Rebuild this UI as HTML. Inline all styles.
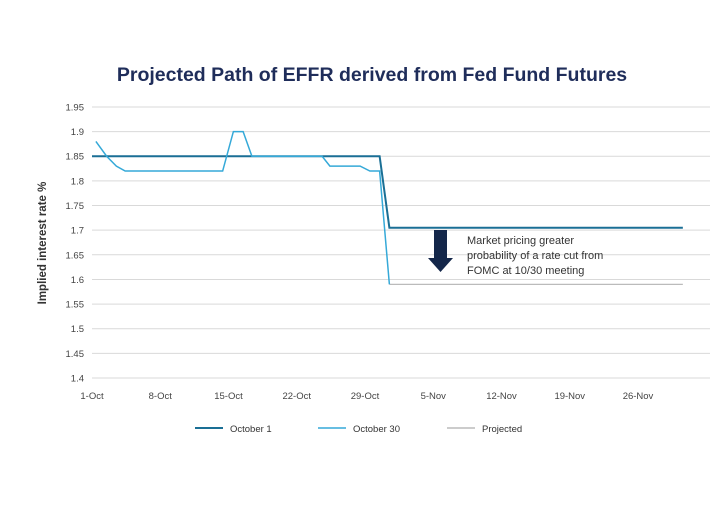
<!DOCTYPE html>
<html><head><meta charset="utf-8">
<style>
body{margin:0;background:#fff;font-family:"Liberation Sans",sans-serif;}
svg text{font-family:"Liberation Sans",sans-serif;}
</style></head>
<body>
<svg id="chart" width="720" height="500">
<text x="372" y="81" text-anchor="middle" font-size="19.5" font-weight="bold" fill="#1f2d5a">Projected Path of EFFR derived from Fed Fund Futures</text>
<text transform="translate(46,243) rotate(-90)" text-anchor="middle" font-size="11.5" font-weight="bold" fill="#333">Implied interest rate %</text>
<g id="grid"></g><g id="series"></g>
<g>
<rect x="434" y="230" width="13" height="28" fill="#14274a"/>
<polygon points="428,258 453,258 440.5,272" fill="#14274a"/>
<text font-size="11" fill="#333"><tspan x="467" y="244">Market pricing greater</tspan><tspan x="467" y="259">probability of a rate cut from</tspan><tspan x="467" y="274">FOMC at 10/30 meeting</tspan></text>
</g>
<g>
<line x1="195" y1="428" x2="223" y2="428" stroke="#1a6f95" stroke-width="2"/>
<text x="230" y="432" font-size="9.5" fill="#333">October 1</text>
<line x1="318" y1="428" x2="346" y2="428" stroke="#35a9d8" stroke-width="1.5"/>
<text x="353" y="432" font-size="9.5" fill="#333">October 30</text>
<line x1="447" y1="428" x2="475" y2="428" stroke="#bbb" stroke-width="1.5"/>
<text x="482" y="432" font-size="9.5" fill="#333">Projected</text>
</g>
</svg>
<script>
const yTicks=[1.4,1.45,1.5,1.55,1.6,1.65,1.7,1.75,1.8,1.85,1.9,1.95];
const xLabels=["1-Oct","8-Oct","15-Oct","22-Oct","29-Oct","5-Nov","12-Nov","19-Nov","26-Nov"];
const oct1Days=[0,29.5,30.5,60.6];
const oct1Vals=[1.85,1.85,1.705,1.705];
const oct30Days=[0.4,1.5,2.5,3.4,13.4,14.5,15.5,16.4,23.6,24.4,27.5,28.5,29.5,30.5];
const oct30Vals=[1.88,1.85,1.83,1.82,1.82,1.9,1.9,1.85,1.85,1.83,1.83,1.82,1.82,1.59];
const projDays=[30.5,60.6];
const projVals=[1.59,1.59];
const X=d=>92+d*9.75, Y=v=>378-(v-1.4)/0.05*24.64;
const NS="http://www.w3.org/2000/svg";
const grid=document.getElementById('grid'), ser=document.getElementById('series');
yTicks.forEach(v=>{
 const l=document.createElementNS(NS,'line');
 l.setAttribute('x1',92);l.setAttribute('x2',710);l.setAttribute('y1',Y(v));l.setAttribute('y2',Y(v));
 l.setAttribute('stroke','#d9d9d9');l.setAttribute('stroke-width',1);
 
 
 grid.appendChild(l);
 const t=document.createElementNS(NS,'text');
 t.setAttribute('x',84);t.setAttribute('y',Y(v)+3.5);t.setAttribute('text-anchor','end');
 t.setAttribute('font-size','9.5');t.setAttribute('fill','#444');t.textContent=String(v);
 
 
 grid.appendChild(t);
});
xLabels.forEach((s,i)=>{
 const t=document.createElementNS(NS,'text');
 t.setAttribute('x',X(i*7));t.setAttribute('y',399);t.setAttribute('text-anchor','middle');
 t.setAttribute('font-size','9.5');t.setAttribute('fill','#444');t.textContent=s;
 
 
 grid.appendChild(t);
});
function line(days,vals,color,w,name){
 const p=document.createElementNS(NS,'polyline');
 p.setAttribute('points',days.map((d,i)=>X(d)+','+Y(vals[i])).join(' '));
 p.setAttribute('fill','none');p.setAttribute('stroke',color);p.setAttribute('stroke-width',w);
 
 
 ser.appendChild(p);
}
line(projDays,projVals,'#bbbbbb',1.3,'series-projected');
line(oct1Days,oct1Vals,'#1a6f95',2,'series-october-1');
line(oct30Days,oct30Vals,'#35a9d8',1.5,'series-october-30');
</script>
</body></html>
